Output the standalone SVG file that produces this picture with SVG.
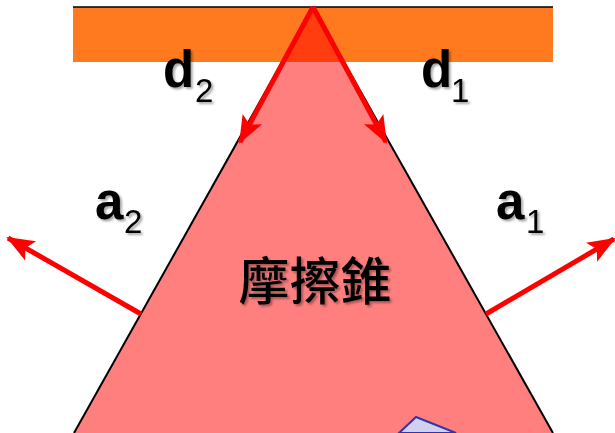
<svg xmlns="http://www.w3.org/2000/svg" width="615" height="433" viewBox="0 0 615 433">
<style>
.lbl{font-family:"Liberation Sans",Arial,sans-serif;font-weight:bold;fill:#000;}
.sub{font-family:"Liberation Sans",Arial,sans-serif;font-weight:normal;fill:#000;}
.arr{stroke:#FF0000;stroke-width:5;fill:none;marker-end:url(#ah);}
.edge{stroke:#000;stroke-width:2;fill:none;}
</style>
<defs>
<marker id="ah" markerUnits="userSpaceOnUse" viewBox="0 0 28 22" markerWidth="28" markerHeight="22" refX="26" refY="11" orient="auto" overflow="visible">
<path d="M0,0 L28,11 L0,22 L6,11 Z" fill="#FF0000"/>
</marker>
<filter id="sh" x="-20%" y="-20%" width="150%" height="150%">
<feDropShadow dx="2" dy="2" stdDeviation="1.2" flood-color="#000" flood-opacity="0.35"/>
</filter>
</defs>
<rect width="615" height="433" fill="#FFFFFF"/>
<g id="surface">
<rect x="73" y="7" width="480" height="55" fill="#FF7A1E"/>
<line x1="73" y1="7" x2="553" y2="7" stroke="#000" stroke-width="1.5"/>
</g>
<g id="cone">
<polygon points="313,7 74,433 553,433" fill="#FF0000" fill-opacity="0.5"/>
<line class="edge" x1="313" y1="7" x2="74" y2="433"/>
<line class="edge" x1="313" y1="7" x2="553" y2="433"/>
<text x="315" y="300" font-family="'Noto Sans CJK TC','Noto Sans CJK SC',sans-serif" font-size="51" font-weight="500" fill="#000" text-anchor="middle" filter="url(#sh)">摩擦錐</text>
</g>
<g id="block">
<polygon points="399,433 416,417 456,433" fill="#D0D0F0" stroke="#3333AA" stroke-width="2"/>
</g>
<g id="connectors">
<line class="arr" x1="313" y1="7" x2="240" y2="142"/>
<line class="arr" x1="313" y1="7" x2="386" y2="142"/>
<line class="arr" x1="141" y1="314" x2="8" y2="238"/>
<line class="arr" x1="486" y1="314" x2="614" y2="239"/>
</g>
<g id="labels" filter="url(#sh)">
<text class="lbl" x="163" y="87" font-size="51">d</text><text class="sub" x="195" y="102" font-size="33">2</text>
<text class="lbl" x="421" y="87" font-size="51">d</text><text class="sub" x="451" y="102" font-size="33">1</text>
<text class="lbl" x="95" y="219" font-size="51">a</text><text class="sub" x="124" y="233" font-size="33">2</text>
<text class="lbl" x="496" y="219" font-size="51">a</text><text class="sub" x="526" y="233" font-size="33">1</text>
</g>
</svg>
